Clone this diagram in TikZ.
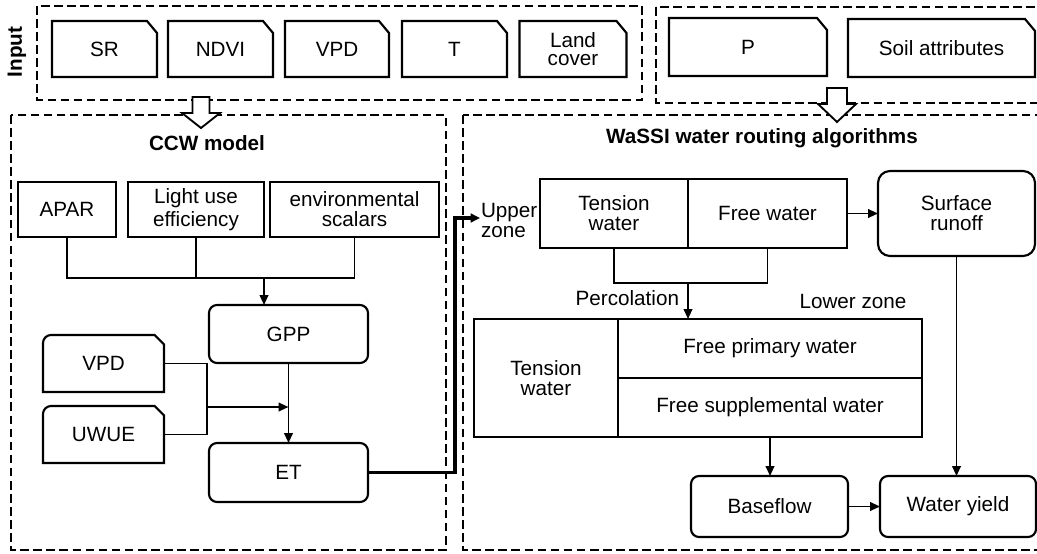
\documentclass[tikz,border=0pt]{standalone}
\usepackage{fontspec}
\setmainfont{Liberation Sans}
\usetikzlibrary{arrows.meta}
\newcommand\cardoutline[1]{\draw[line width=1.6pt] (#1.south west) -- (#1.north west) -- ([xshift=-7.5pt]#1.north east) -- ([yshift=-9pt]#1.north east) -- (#1.south east) -- cycle;}
\newcommand\cardroundoutline[1]{\draw[line width=1.6pt] (#1.south west) -- ([yshift=-6pt]#1.north west) arc[start angle=180, end angle=90, radius=6pt] -- ([xshift=-7pt]#1.north east) -- ([yshift=-7pt]#1.north east) -- (#1.south east) -- cycle;}
\begin{document}
\begin{tikzpicture}[x=0.75pt,y=-0.75pt,
  every node/.style={inner sep=0pt, outer sep=0pt, font=\fontsize{15.5}{15}\selectfont, align=center},
  sz/.style 2 args={minimum width=#1*0.75pt, minimum height=#2*0.75pt},
  plain/.style={draw, line width=1.6pt},
  rbox/.style={draw, line width=1.6pt, rounded corners=6pt},
  dashbox/.style={draw, line width=1.5pt, dash pattern=on 6.5pt off 3.3pt},
  conn/.style={line width=1.4pt},
  arr/.style={conn, -{Triangle[length=7.5pt,width=6.5pt]}},
  blockarrow/.style={draw, fill=white, line width=1.4pt, line join=miter},
  title/.style={font=\bfseries\fontsize{15.5}{15}\selectfont}
]
\useasboundingbox (0,0) rectangle (1037,553);
\clip (0,0) rectangle (1037,553);

% group frames
\draw[dashbox] (37,6) rectangle (642,100);
\draw[dashbox] (656,7) rectangle (1050,103);
\draw[dashbox] (11,115) rectangle (446,550);
\draw[dashbox] (463,115) rectangle (1050,550);

% block arrows
\draw[blockarrow] (192.5,97) -- (209.5,97) -- (209.5,113) -- (220,113) -- (201,128) -- (182,113) -- (192.5,113) -- cycle;
\draw[blockarrow] (827,88) -- (847,88) -- (847,104) -- (856,104) -- (837,122) -- (818,104) -- (827,104) -- cycle;

% input
\node[title, rotate=90] (inputlbl) at (17,52) {Input};
\node[sz={105}{56}] (sr) at (104.5,49) {SR};
\node[sz={105}{56}] (ndvi) at (220.5,49) {NDVI};
\node[sz={104}{56}] (vpda) at (337,49) {VPD};
\node[sz={105}{56}] (tt) at (454.5,49) {T};
\node[sz={107}{56}, font=\fontsize{15.5}{14}\selectfont] (lc) at (573,49) {Land\\cover};
\node[sz={158}{58}] (pp) at (748,47) {P};
\node[sz={187}{58}] (soil) at (941.5,48) {Soil attributes};
\foreach \n in {sr,ndvi,vpda,tt,lc,pp,soil} {\cardoutline{\n}}

% titles
\node[title] (ccwt) at (207,143) {CCW model};
\node[title] (wassit) at (762,138) {WaSSI water routing algorithms};

% CCW model
\node[plain, sz={98}{55}] (apar) at (67,209.5) {APAR};
\node[plain, sz={136}{55}, font=\fontsize{15.5}{17}\selectfont] (lue) at (196,209.5) {Light use\\efficiency};
\node[plain, sz={169}{55}] (env) at (354.5,209.5) {environmental\\scalars};
\coordinate (jn) at (264,278);
\draw[conn] (apar.south) -- (apar.south |- jn) -- (env.south |- jn) -- (env.south);
\draw[conn] (lue.south) -- (lue.south |- jn);
\node[rbox, sz={159}{58}] (gpp) at (288.5,334) {GPP};
\draw[arr] (jn) -- (jn |- gpp.north);

\node[sz={121}{57}] (vpdb) at (103.5,363.5) {VPD};
\node[sz={121}{57}] (uwue) at (103.5,434.5) {UWUE};
\cardroundoutline{vpdb}
\cardroundoutline{uwue}
\coordinate (brk) at (207,407);
\draw[conn] (vpdb.east) -| (brk) |- (uwue.east);
\node[rbox, sz={159}{59}] (et) at (288.5,472.5) {ET};
\draw[arr] (gpp.south) -- (et.north);
\draw[arr] (brk) -- (brk -| gpp.south);

% ET to upper zone
\coordinate (bend) at (455,218);
\coordinate (uz) at (480,218);
\draw[line width=2.4pt, -{Triangle[length=7pt,width=6.5pt]}] (et.east) -| (bend) -- (uz);
\node[anchor=west, align=left] (uzl) at (481,220) {Upper\\zone};

% WaSSI upper zone
\node[plain, sz={148}{69}] (tw) at (614,213.5) {Tension\\water};
\node[plain, sz={159}{69}] (fw) at (767.5,213.5) {Free water};
\node[rbox, rounded corners=9pt, sz={157}{85}] (sro) at (956.5,213.5) {Surface\\runoff};
\draw[arr] (fw.east) -- (sro.west);
\coordinate (pc) at (688,283);
\draw[conn] (tw.south) |- (pc) -| (fw.south);
\node[anchor=east] (perc) at (679,298) {Percolation};
\node (lz) at (853,301) {Lower zone};

% lower zone
\node[plain, sz={144}{118}] (ltw) at (546,378) {Tension\\water};
\node[plain, sz={304}{59}] (fpw) at (770,348.5) {Free primary water};
\node[plain, sz={304}{59}] (fsw) at (770,407.5) {Free supplemental water};
\draw[arr] (pc) -- (pc |- fpw.north);

\node[rbox, sz={157}{61}] (bf) at (769.5,506.5) {Baseflow};
\node[rbox, sz={156}{61}] (wy) at (958,506.5) {Water yield};
\draw[arr] (fsw.south) -- (fsw.south |- bf.north);
\draw[arr] (bf.east) -- (wy.west);
\draw[arr] (sro.south) -- (sro.south |- wy.north);
\end{tikzpicture}
\end{document}
